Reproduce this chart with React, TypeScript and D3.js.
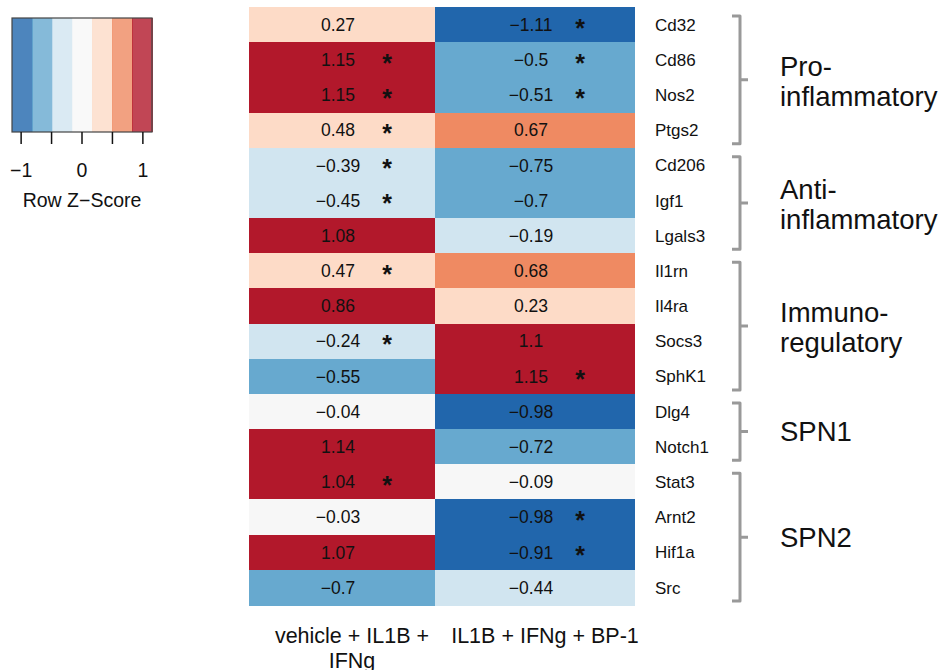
import React from "react";
import * as d3 from "d3";

const genes = ["Cd32", "Cd86", "Nos2", "Ptgs2", "Cd206", "Igf1", "Lgals3", "Il1rn", "Il4ra", "Socs3", "SphK1", "Dlg4", "Notch1", "Stat3", "Arnt2", "Hif1a", "Src"];
const conditions = ["vehicle + IL1B +\nIFNg", "IL1B + IFNg + BP-1"];
const vehicleValues = [0.27, 1.15, 1.15, 0.48, -0.39, -0.45, 1.08, 0.47, 0.86, -0.24, -0.55, -0.04, 1.14, 1.04, -0.03, 1.07, -0.7];
const bp1Values = [-1.11, -0.5, -0.51, 0.67, -0.75, -0.7, -0.19, 0.68, 0.23, 1.1, 1.15, -0.98, -0.72, -0.09, -0.98, -0.91, -0.44];
const vehicleSig = [false, true, true, true, true, true, false, true, false, true, false, false, false, true, false, false, false];
const bp1Sig = [true, true, true, false, false, false, false, false, false, false, true, false, false, false, true, true, false];
const groupNames = ["Pro-\ninflammatory", "Anti-\ninflammatory", "Immuno-\nregulatory", "SPN1", "SPN2"];
const groupStart = [0, 4, 7, 11, 13];
const groupEnd = [3, 6, 10, 12, 16];
const palette = ["#2166ac", "#67a9cf", "#d1e5f0", "#f7f7f7", "#fddbc7", "#ef8a62", "#b2182b"];
const legendTicks = [-1, -0.5, 0, 0.5, 1];
const legendLabels = ["\u22121", "", "0", "", "1"];

const fmt = (v: number) => (v < 0 ? "\u2212" + String(Math.abs(v)) : String(v));

export default function App() {
  const W = 941, H = 670;
  const font = "'Liberation Sans', Arial, Helvetica, sans-serif";
  const color = d3.scaleQuantize<string>().domain([-1.15, 1.15]).range(palette);
  const y = d3.scaleBand<string>().domain(genes).range([7, 605]);
  // the two columns are slightly unequal in the reference
  const colEdge = d3.scaleLinear().domain([0, 1, 2]).range([249, 435, 635]);
  const colX = (i: number) => colEdge(i);
  const colW = (i: number) => colEdge(i + 1) - colEdge(i);
  const series = [vehicleValues, bp1Values];
  const sigs = [vehicleSig, bp1Sig];
  const lx = d3.scaleLinear().domain([-1.15, 1.15]).range([12, 152]);
  const bins = palette.map((c, i) => ({ c, x0: -1.15 + (i * 2.3) / 7, x1: -1.15 + ((i + 1) * 2.3) / 7 }));
  const bx = 740;

  return (
    <svg width={W} height={H} style={{ position: "absolute", left: 0, top: 0, background: "#fff" }} fontFamily={font}>
      {/* legend */}
      <g>
        {bins.map((b, i) => (
          <rect key={i} x={lx(b.x0)} y={18} width={lx(b.x1) - lx(b.x0) + 0.5} height={114} fill={b.c} opacity={0.8} shapeRendering="crispEdges" />
        ))}
        <rect x={12} y={18} width={140} height={114} fill="none" stroke="#444" strokeWidth={1.2} />
        {legendTicks.map((t, i) => (
          <g key={i}>
            <line x1={lx(t)} x2={lx(t)} y1={132} y2={144} stroke="#111" strokeWidth={1.5} />
            <text x={lx(t)} y={177} textAnchor="middle" fontSize={19.5} fill="#111">{legendLabels[i]}</text>
          </g>
        ))}
        <text x={82} y={207} textAnchor="middle" fontSize={19.5} fill="#111">Row Z{"\u2212"}Score</text>
      </g>

      {/* heatmap cells */}
      {series.map((vals, ci) =>
        vals.map((v, ri) => {
          const g = genes[ri];
          const cy = (y(g) as number) + y.bandwidth() / 2;
          const cx = colX(ci) + colW(ci) / 2;
          return (
            <g key={ci + "-" + ri}>
              <rect x={colX(ci)} y={y(g)} width={colW(ci)} height={y.bandwidth() + 0.5} fill={color(v)} shapeRendering="crispEdges" />
              <text x={cx - 4} y={cy} dy="0.36em" textAnchor="middle" fontSize={17.5} fill="#111">{fmt(v)}</text>
              {sigs[ci][ri] && (
                <text x={cx + 45} y={cy + 12} textAnchor="middle" fontSize={25} fontWeight="bold" fill="#111">*</text>
              )}
            </g>
          );
        })
      )}

      {/* row labels */}
      {genes.map((g) => (
        <text key={g} x={655} y={(y(g) as number) + y.bandwidth() / 2} dy="0.36em" fontSize={17} fill="#111">{g}</text>
      ))}

      {/* column labels */}
      {conditions.map((c, ci) => {
        const lines = c.split("\n");
        const cx = colX(ci) + colW(ci) / 2 + 10;
        return (
          <text key={ci} x={cx} y={643} textAnchor="middle" fontSize={21.5} fill="#111">
            {lines.map((l, li) => (
              <tspan key={li} x={cx} dy={li === 0 ? 0 : 25}>{l}</tspan>
            ))}
          </text>
        );
      })}

      {/* group brackets */}
      {groupNames.map((name, gi) => {
        const top = (y(genes[groupStart[gi]]) as number) + 9;
        const bot = (y(genes[groupEnd[gi]]) as number) + y.bandwidth() - 4;
        const mid = (top + bot) / 2;
        const lines = name.split("\n");
        const lh = 30;
        const baseY = lines.length > 1 ? mid - 4 : mid + 9.5;
        return (
          <g key={gi}>
            <path
              d={`M${bx - 8},${top} L${bx},${top} L${bx},${bot} L${bx - 8},${bot} M${bx},${mid} L${bx + 8},${mid}`}
              fill="none" stroke="#999" strokeWidth={3} strokeLinejoin="round"
            />
            <text x={780} y={baseY} fontSize={27.5} fill="#111">
              {lines.map((l, li) => (
                <tspan key={li} x={780} dy={li === 0 ? 0 : lh}>{l}</tspan>
              ))}
            </text>
          </g>
        );
      })}
    </svg>
  );
}
